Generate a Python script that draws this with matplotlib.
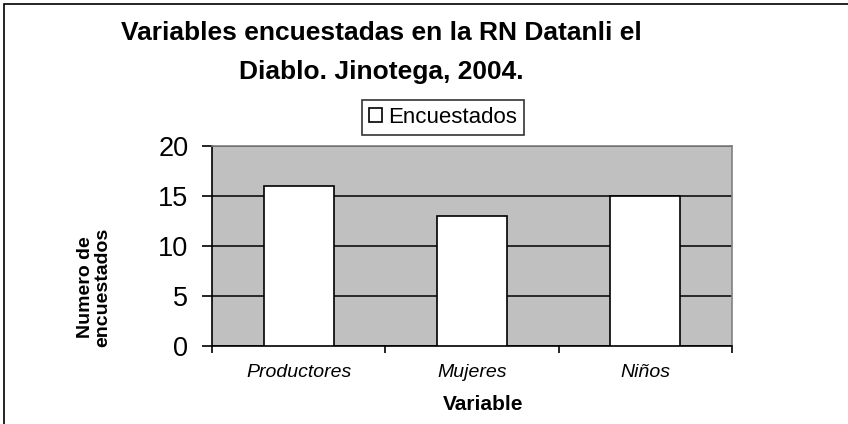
import matplotlib
matplotlib.use("Agg")
import matplotlib.pyplot as plt
from matplotlib.patches import Rectangle, Patch

# datos
categorias = ["Productores", "Mujeres", "Niños"]
encuestados = [16, 13, 15]
yticks = [0, 5, 10, 15, 20]

plt.rcParams['font.family'] = ['Liberation Sans', 'DejaVu Sans']

W, H = 848, 424
fig = plt.figure(figsize=(W/100, H/100), dpi=100)

# marco exterior
fig.patches.append(Rectangle((4/W, -0.1), 1.2, 1.1 - 4/H, transform=fig.transFigure,
                             fill=False, edgecolor='black', linewidth=1.2, clip_on=False))

ax = fig.add_axes([212/W, 1-346/H, 520/W, 200/H])
ax.set_facecolor('#c0c0c0')

x = list(range(len(categorias)))
ax.bar(x, encuestados, width=0.405, color='white', edgecolor='black', linewidth=1.2,
       zorder=3, label='Encuestados')

ax.set_xlim(-0.5, len(categorias)-0.5)
ax.set_ylim(0, 20)
ax.set_yticks(yticks)
ax.set_yticklabels([str(v) for v in yticks], fontsize=19.5)
ax.yaxis.grid(True, color='black', linewidth=1.1, zorder=1)
ax.set_axisbelow(True)
ax.tick_params(axis='y', length=7, width=1.2, direction='out', pad=10)

# categorias
ax.set_xticks([i - 0.5 for i in range(len(categorias)+1)], minor=False)
ax.set_xticklabels([''] * (len(categorias)+1))
ax.tick_params(axis='x', length=5, width=1.2, direction='out')
ax.set_xticks(x, minor=True)
ax.set_xticklabels(categorias, minor=True, fontsize=14, style='italic')
ax.tick_params(axis='x', which='minor', length=0, pad=22)
for lbl in ax.get_xticklabels(minor=True):
    lbl.set_verticalalignment('baseline')

for s in ['left', 'bottom']:
    ax.spines[s].set_color('black')
    ax.spines[s].set_linewidth(1.2)
for s in ['top', 'right']:
    ax.spines[s].set_color('#808080')
    ax.spines[s].set_linewidth(1.2)

fig.text(94/W, 1-287/H, "Numero de\nencuestados", rotation=90, fontsize=14,
         fontweight='bold', ha='center', va='center', linespacing=1.05)
fig.text(483/W, 1-410/H, "Variable", fontsize=15, fontweight='bold',
         ha='center', va='baseline')

fig.text(381/W, 1-40/H, "Variables encuestadas en la RN Datanli el", fontsize=19,
         fontweight='bold', ha='center', va='baseline')
fig.text(381/W, 1-79/H, "Diablo. Jinotega, 2004.", fontsize=19,
         fontweight='bold', ha='center', va='baseline')

handle = Patch(facecolor='white', edgecolor='black', linewidth=1.2)
leg = fig.legend([handle], ['Encuestados'], loc='center', bbox_to_anchor=(443/W, 1-117.5/H),
                 fontsize=16, frameon=True, fancybox=False, borderpad=0.3,
                 handlelength=0.6, handleheight=0.6, handletextpad=0.25, borderaxespad=0)
leg.get_frame().set_edgecolor('black')
leg.get_frame().set_linewidth(1.2)

fig.savefig("out.png", dpi=100)
